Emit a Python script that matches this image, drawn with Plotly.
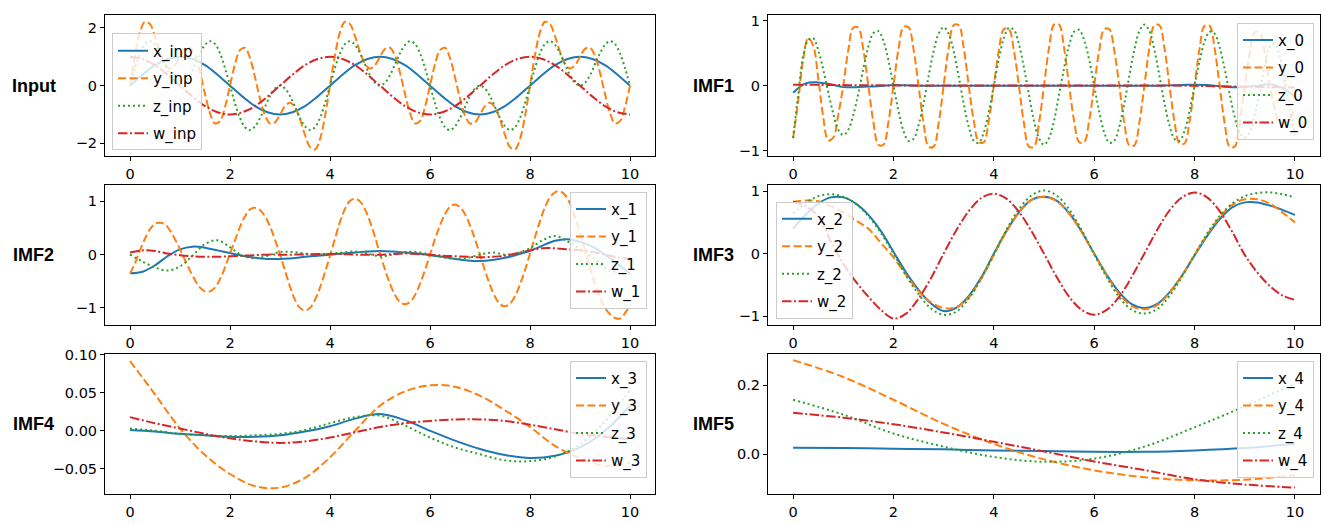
import plotly.graph_objects as go

# ---------------- sample grids ----------------
t_fine = [i / 10 for i in range(101)]      # step 0.1
t_mid = [i / 4 for i in range(41)]         # step 0.25
t_half = [i / 2 for i in range(21)]        # step 0.5
t_unit = [float(i) for i in range(11)]     # step 1.0

# ---------------- Input ----------------
x_inp = [0, .38, .71, .92, 1, .92, .71, .38, 0, -.38, -.71, -.92, -1, -.92, -.71, -.38,
         0, .38, .71, .92, 1, .92, .71, .38, 0, -.38, -.71, -.92, -1, -.92, -.71, -.38,
         0, .38, .71, .92, 1, .92, .71, .38, 0]
w_inp = [1, .92, .71, .38, 0, -.38, -.71, -.92, -1, -.92, -.71, -.38, 0, .38, .71, .92,
         1, .92, .71, .38, 0, -.38, -.71, -.92, -1, -.92, -.71, -.38, 0, .38, .71, .92,
         1, .92, .71, .38, 0, -.38, -.71, -.92, -1]
y_inp = [0, 1.05, 1.85, 2.21, 2.13, 1.71, 1.17, .75, .59, .71,
         1.0, 1.27, 1.31, 1.03, .45, -.29, -.95, -1.31, -1.23, -.74,
         0, .74, 1.23, 1.31, .95, .29, -.45, -1.03, -1.31, -1.27,
         -1.0, -.71, -.59, -.75, -1.17, -1.71, -2.13, -2.21, -1.85, -1.05,
         0, 1.05, 1.85, 2.21, 2.13, 1.71, 1.17, .75, .59, .71,
         1.0, 1.27, 1.31, 1.03, .45, -.29, -.95, -1.31, -1.23, -.74,
         0, .74, 1.23, 1.31, .95, .29, -.45, -1.03, -1.31, -1.27,
         -1.0, -.71, -.59, -.75, -1.17, -1.71, -2.13, -2.21, -1.85, -1.05,
         0, 1.05, 1.85, 2.21, 2.13, 1.71, 1.17, .75, .59, .71,
         1.0, 1.27, 1.31, 1.03, .45, -.29, -.95, -1.31, -1.23, -.74, 0]
z_inp = [0, .61, 1.12, 1.44, 1.54, 1.41, 1.12, .74, .36, .10,
         0, .10, .36, .74, 1.12, 1.41, 1.54, 1.44, 1.12, .61,
         0, -.61, -1.12, -1.44, -1.54, -1.41, -1.12, -.74, -.36, -.10,
         0, -.10, -.36, -.74, -1.12, -1.41, -1.54, -1.44, -1.12, -.61,
         0, .61, 1.12, 1.44, 1.54, 1.41, 1.12, .74, .36, .10,
         0, .10, .36, .74, 1.12, 1.41, 1.54, 1.44, 1.12, .61,
         0, -.61, -1.12, -1.44, -1.54, -1.41, -1.12, -.74, -.36, -.10,
         0, -.10, -.36, -.74, -1.12, -1.41, -1.54, -1.44, -1.12, -.61,
         0, .61, 1.12, 1.44, 1.54, 1.41, 1.12, .74, .36, .10,
         0, .10, .36, .74, 1.12, 1.41, 1.54, 1.44, 1.12, .61, 0]

# ---------------- IMF1 ----------------
x_0 = [-.11, .035, .05, .02, -.02, -.025, -.015, -.005, .01, .005, 0, 0, 0, 0, 0, 0,
       0, 0, 0, 0, 0, 0, 0, 0, 0, 0, 0, 0, 0, 0, .005, .01, .015, .01, -.01, -.025,
       -.02, 0, .02, -.04, -.17]
w_0 = [.015, .015, .012, .01, .008, .006, .005, .004, .003, .003, .002, .002, .002, .002,
       .002, .002, .002, .002, .002, .002, .002, .002, .002, .002, .002, .002, .002, .002,
       .002, .002, .002, 0, -.003, -.006, -.01, -.013, -.016, -.02, -.023, -.026, -.03]
y_0 = [-.81, -.25, .40, .73, .62, .12, -.48, -.84, -.80, -.45,
       0, .55, .89, .89, .55, 0, -.56, -.91, -.91, -.56,
       0, .56, .90, .90, .56, 0, -.58, -.94, -.94, -.58,
       0, .58, .93, .93, .58, 0, -.54, -.87, -.87, -.54,
       0, .54, .87, .87, .54, 0, -.58, -.94, -.94, -.58,
       0, .58, .94, .94, .58, 0, -.54, -.87, -.87, -.54,
       0, .54, .87, .87, .54, 0, -.57, -.92, -.92, -.57,
       0, .58, .93, .93, .58, 0, -.55, -.89, -.89, -.55,
       0, .57, .92, .92, .57, 0, -.58, -.94, -.94, -.58,
       0, .50, .82, .82, .50, 0, -.36, -.58, -.58, -.50, -.35]
z_0 = [-.81, -.15, .45, .70, .73, .55, .25, -.10, -.43, -.68,
       -.76, -.68, -.45, -.12, .26, .60, .81, .84, .69, .39,
       0, -.39, -.70, -.85, -.82, -.61, -.27, .14, .53, .80,
       .90, .80, .53, .14, -.28, -.63, -.85, -.88, -.72, -.40,
       0, .41, .73, .89, .86, .64, .28, -.14, -.54, -.81,
       -.91, -.81, -.54, -.14, .27, .62, .83, .86, .70, .40,
       0, -.40, -.72, -.88, -.85, -.63, -.28, .15, .55, .84,
       .94, .84, .55, .15, -.27, -.61, -.82, -.85, -.70, -.39,
       0, .38, .68, .83, .80, .59, .26, -.13, -.48, -.72,
       -.80, -.72, -.45, -.08, .30, .60, .65, .45, .08, -.36, -.76]

# ---------------- IMF2 ----------------
x_1 = [-.35, -.32, -.20, -.03, .10, .15, .13, .08, .03, -.02, -.06, -.08, -.08, -.07,
       -.04, -.02, 0, .02, .04, .06, .07, .06, .04, .02, -.01, -.04, -.08, -.11, -.12,
       -.10, -.06, 0, .07, .17, .26, .29, .24, .15, 0, -.17, -.36]
y_1 = [-.36, -.16, .08, .30, .48, .58, .60, .57, .45, .29,
       .10, -.10, -.30, -.48, -.62, -.69, -.69, -.62, -.46, -.24,
       .02, .27, .52, .72, .85, .88, .84, .72, .53, .28,
       0, -.30, -.60, -.85, -1.0, -1.05, -1.0, -.85, -.62, -.33,
       -.02, .30, .62, .86, 1.01, 1.05, 1.0, .85, .62, .33,
       .02, -.28, -.55, -.76, -.89, -.93, -.89, -.76, -.55, -.29,
       0, .29, .55, .76, .90, .94, .89, .76, .55, .29,
       0, -.30, -.57, -.79, -.93, -.97, -.92, -.78, -.56, -.29,
       .02, .33, .63, .89, 1.08, 1.17, 1.19, 1.12, .96, .70,
       .40, .08, -.25, -.55, -.80, -1.0, -1.12, -1.19, -1.20, -1.10, -.95]
z_1 = [0, -.13, -.24, -.30, -.22, -.02, .20, .27, .14, -.02, -.07, -.02, .05, .05, .02,
       0, .02, .04, .06, .02, -.03, 0, .05, .05, 0, -.05, -.08, -.06, 0, .04, 0, .03,
       .12, .27, .35, .25, .10, -.05, -.25, -.34, -.36]
w_1 = [.04, .08, .07, .02, -.01, -.03, -.04, -.04, -.03, -.02, -.01, 0, 0, 0, .005, .01,
       .01, .01, 0, 0, 0, .01, .02, .01, 0, -.02, -.03, -.04, -.05, -.04, -.02, .03, .08,
       .12, .12, .10, .08, .05, 0, -.05, -.08]

# ---------------- IMF3 ----------------
x_2 = [.40, .62, .80, .90, .90, .80, .62, .36, .03, -.30, -.58, -.80, -.92, -.87, -.68,
       -.38, 0, .36, .66, .86, .91, .85, .65, .35, 0, -.34, -.62, -.81, -.87, -.81, -.62,
       -.35, -.03, .28, .55, .74, .82, .82, .77, .70, .62]
y_2 = [.83, .85, .84, .76, .66, .53, .40, .17, -.06, -.34, -.60, -.78, -.87, -.86, -.70,
       -.40, -.02, .35, .66, .86, .91, .84, .64, .35, 0, -.35, -.65, -.84, -.89, -.83,
       -.63, -.35, -.02, .30, .58, .78, .87, .87, .80, .66, .50]
z_2 = [.64, .81, .92, .95, .91, .80, .60, .33, 0, -.35, -.65, -.88, -.98, -.93, -.72,
       -.40, -.02, .38, .71, .93, 1.01, .93, .71, .38, -.01, -.38, -.70, -.90, -.96, -.89,
       -.68, -.37, -.02, .32, .60, .80, .92, .97, .98, .95, .90]
w_2 = [.83, .76, .60, .20, -.16, -.45, -.69, -.90, -1.04, -.96, -.72, -.39, 0, .37, .68,
       .89, .96, .88, .67, .36, 0, -.37, -.69, -.90, -.98, -.90, -.69, -.37, 0, .37, .69,
       .90, .98, .90, .68, .35, -.02, -.30, -.52, -.67, -.74]

# ---------------- IMF4 ----------------
x_3 = [.001, -.001, -.004, -.006, -.008, -.008, -.006, -.001, .006, .016, .022, .014, 0,
       -.013, -.024, -.032, -.036, -.033, -.022, 0, .033]
y_3 = [.092, .048, .003, -.032, -.057, -.073, -.075, -.062, -.035, 0, .033, .052, .060,
       .058, .046, .027, .005, -.020, -.036, -.046, -.042]
z_3 = [.003, 0, -.004, -.006, -.007, -.006, -.004, .001, .010, .018, .020, .007, -.009,
       -.022, -.031, -.039, -.040, -.034, -.018, .012, .054]
w_3 = [.018, .010, .003, -.004, -.010, -.014, -.016, -.014, -.009, -.002, .005, .010,
       .013, .015, .015, .013, .008, .002, -.004, -.008, -.011]

# ---------------- IMF5 ----------------
x_4 = [.019, .018, .016, .014, .011, .009, .007, .007, .011, .018, .030]
y_4 = [.273, .224, .158, .088, .030, -.015, -.047, -.067, -.076, -.074, -.061]
z_4 = [.158, .115, .060, .022, -.008, -.022, -.013, .022, .078, .139, .205]
w_4 = [.120, .106, .087, .063, .036, .008, -.021, -.046, -.073, -.088, -.097]

# ---------------- styling ----------------
W, H = 1322, 525
COLORS = ["#1f77b4", "#ff7f0e", "#2ca02c", "#d62728"]
DASHES = ["solid", "8px,3.5px", "2px,3px", "9.5px,2.5px,2px,2.5px"]

LEFT_X = (105, 655)
RIGHT_X = (768, 1320)
ROWS_Y = [(8, 152), (181, 324), (353, 496)]


def xdom(px):
    return [px[0] / W, px[1] / W]


def ydom(py):
    return [1 - py[1] / H, 1 - py[0] / H]


panels = [
    # (title, grid, series, names, col, row, yrange, yticks, yticktext, legend box)
    ("Input", [t_mid, t_fine, t_fine, t_mid], [x_inp, y_inp, z_inp, w_inp],
     ["x_inp", "y_inp", "z_inp", "w_inp"], 0, 0, [-2.45, 2.45], [-2, 0, 2], ["−2", "0", "2"],
     dict(x=112 / W, y=1 - 146 / H, xanchor="left", yanchor="bottom")),
    ("IMF1", [t_mid, t_fine, t_fine, t_mid], [x_0, y_0, z_0, w_0],
     ["x_0", "y_0", "z_0", "w_0"], 1, 0, [-1.09, 1.09], [-1, 0, 1], ["−1", "0", "1"],
     dict(x=1314 / W, y=1 - 16 / H, xanchor="right", yanchor="top")),
    ("IMF2", [t_mid, t_fine, t_mid, t_mid], [x_1, y_1, z_1, w_1],
     ["x_1", "y_1", "z_1", "w_1"], 0, 1, [-1.33, 1.31], [-1, 0, 1], ["−1", "0", "1"],
     dict(x=647 / W, y=1 - 188 / H, xanchor="right", yanchor="top")),
    ("IMF3", [t_mid, t_mid, t_mid, t_mid], [x_2, y_2, z_2, w_2],
     ["x_2", "y_2", "z_2", "w_2"], 1, 1, [-1.15, 1.10], [-1, 0, 1], ["−1", "0", "1"],
     dict(x=776 / W, y=1 - 317 / H, xanchor="left", yanchor="bottom")),
    ("IMF4", [t_half] * 4, [x_3, y_3, z_3, w_3],
     ["x_3", "y_3", "z_3", "w_3"], 0, 2, [-0.084, 0.1013], [-0.05, 0, 0.05, 0.1],
     ["−0.05", "0.00", "0.05", "0.10"],
     dict(x=647 / W, y=1 - 360 / H, xanchor="right", yanchor="top")),
    ("IMF5", [t_unit] * 4, [x_4, y_4, z_4, w_4],
     ["x_4", "y_4", "z_4", "w_4"], 1, 2, [-0.117, 0.291], [0, 0.2], ["0.0", "0.2"],
     dict(x=1314 / W, y=1 - 360 / H, xanchor="right", yanchor="top")),
]

fig = go.Figure()
layout = dict(
    width=W, height=H,
    margin=dict(l=0, r=0, t=0, b=0),
    paper_bgcolor="white", plot_bgcolor="white",
    font=dict(family="DejaVu Sans", size=14.5, color="black"),
    annotations=[],
)

tick_font = dict(family="DejaVu Sans", size=14.5, color="black")
axis_common = dict(showline=True, mirror=True, linecolor="black", linewidth=1,
                   ticks="outside", ticklen=4, tickwidth=1, tickcolor="black",
                   showgrid=False, zeroline=False, tickfont=tick_font)

for i, (title, grids, series, names, col, row, yr, yt, ytt, leg) in enumerate(panels):
    n = i + 1
    suffix = "" if n == 1 else str(n)
    xname, yname = "x" + suffix, "y" + suffix
    lname = "legend" + suffix
    colx = LEFT_X if col == 0 else RIGHT_X
    rowy = ROWS_Y[row]

    layout["xaxis" + suffix] = dict(axis_common, domain=xdom(colx), range=[-0.5, 10.5],
                                    tickvals=[0, 2, 4, 6, 8, 10], anchor=yname)
    layout["yaxis" + suffix] = dict(axis_common, domain=ydom(rowy), range=yr,
                                    tickvals=yt, ticktext=ytt, anchor=xname)
    layout[lname] = dict(leg, bgcolor="rgba(255,255,255,0.8)", bordercolor="#cccccc",
                         borderwidth=1, font=dict(family="DejaVu Sans", size=15, color="black"),
                         tracegroupgap=5)

    for k in range(4):
        fig.add_trace(go.Scatter(
            x=grids[k], y=series[k], mode="lines", name=names[k],
            legendgroup=names[k],
            line=dict(color=COLORS[k], width=2, dash=DASHES[k], shape="spline", smoothing=1),
            xaxis=xname, yaxis=yname, legend=lname, showlegend=True,
        ))

    cx = 33.5 if col == 0 else 713.5
    layout["annotations"].append(dict(
        text="<b>%s</b>" % title, x=cx / W, y=1 - (rowy[0] + rowy[1]) / 2 / H,
        xref="paper", yref="paper", showarrow=False, xanchor="center", yanchor="middle",
        font=dict(family="Liberation Sans", size=18, color="black"),
    ))

fig.update_layout(**layout)
fig.write_html("out.html")
